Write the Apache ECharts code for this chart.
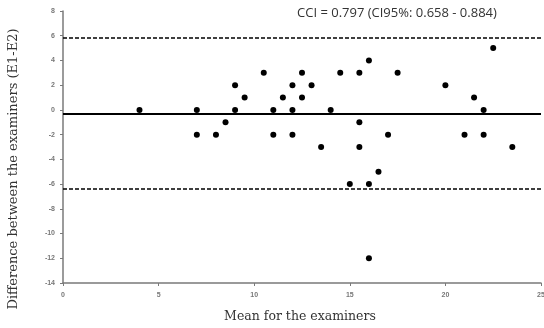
<!DOCTYPE html>
<html><head><meta charset="utf-8">
<script src="https://cdn.jsdelivr.net/npm/echarts@6/dist/echarts.min.js"></script>
<style>html,body{margin:0;padding:0;background:#fff}#c{width:544px;height:328px}</style>
</head><body><div id="c"></div>
<script>
// Mean of the two examiners (x) and difference E1-E2 (y)
const meanValues = [4, 7, 7, 8, 8.5, 9, 9, 9.5, 10.5, 11, 11, 11.5, 12, 12, 12, 12.5, 12.5, 13, 13.5, 14, 14.5, 15, 15.5, 15.5, 15.5, 16, 16, 16, 16.5, 17, 17.5, 20, 21, 21.5, 22, 22, 22.5, 23.5];
const diffValues = [0, 0, -2, -2, -1, 2, 0, 1, 3, 0, -2, 1, 2, 0, -2, 3, 1, 2, -3, 0, 3, -6, 3, -1, -3, 4, -6, -12, -5, -2, 3, 2, -2, 1, 0, -2, 5, -3];
const biasLine = [-0.28];
const limitLines = [5.85, -6.4];
const xTicks = [0, 5, 10, 15, 20, 25];
const yTicks = [8, 6, 4, 2, 0, -2, -4, -6, -8, -10, -12, -14];
const annotation = 'CCI = 0.797 (CI95%: 0.658 - 0.884)';
const xTitle = 'Mean for the examiners';
const yTitle = 'Difference between the examiners (E1-E2)';

const chart = echarts.init(document.getElementById('c'));
const pts = meanValues.map((m, i) => [m, diffValues[i]]);
const axisCommon = {
  axisLine: {show: true, onZero: false, lineStyle: {color: '#7a7a7a', width: 1.5}},
  axisTick: {show: true, length: 3, lineStyle: {color: '#7a7a7a'}},
  splitLine: {show: false},
  axisLabel: {color: '#777', fontSize: 7, fontWeight: 'bold', fontFamily: 'Liberation Sans'}
};
chart.setOption({
  animation: false,
  grid: {left: 63, right: 3, top: 11, bottom: 45, containLabel: false, outerBoundsMode: 'none'},
  graphic: [
    {type: 'text', left: 297, top: 7,
     style: {text: annotation, fontSize: 13, fill: '#333', fontFamily: 'Open Sans'}},
    {type: 'text', x: 300, y: 317,
     style: {text: xTitle, fontSize: 12.5, fill: '#333', fontFamily: 'DejaVu Serif', align: 'center', verticalAlign: 'middle'}},
    {type: 'text', x: 14, y: 169, rotation: Math.PI / 2,
     style: {text: yTitle, fontSize: 13, fill: '#333', fontFamily: 'DejaVu Serif', align: 'center', verticalAlign: 'middle'}}
  ],
  xAxis: Object.assign({
    type: 'value', min: xTicks[0], max: xTicks[xTicks.length - 1], interval: 5
  }, axisCommon, {axisLabel: Object.assign({}, axisCommon.axisLabel, {margin: 9})}),
  yAxis: Object.assign({
    type: 'value', min: yTicks[yTicks.length - 1], max: yTicks[0], interval: 2
  }, axisCommon, {axisLabel: Object.assign({}, axisCommon.axisLabel, {margin: 8})}),
  series: [{
    type: 'scatter',
    data: pts,
    symbol: 'circle', symbolSize: 6,
    itemStyle: {color: '#000', opacity: 1},
    z: 5,
    markLine: {
      silent: true, symbol: 'none', label: {show: false}, z: 3,
      data: [
        {yAxis: biasLine[0], lineStyle: {type: 'solid', color: '#000', width: 2}},
        {yAxis: limitLines[0], lineStyle: {type: [4, 2], color: '#000', width: 1.5}},
        {yAxis: limitLines[1], lineStyle: {type: [4, 2], color: '#000', width: 1.5}}
      ]
    }
  }]
});
</script></body></html>
